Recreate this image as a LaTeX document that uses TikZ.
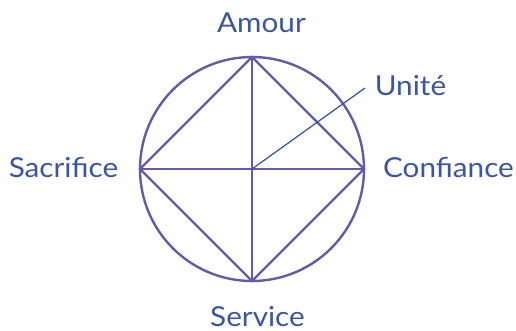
\documentclass[tikz,border=0pt]{standalone}
\usepackage{fontspec}
\setmainfont{Lato}[FakeStretch=1.08]
\definecolor{linec}{RGB}{98,92,168}
\definecolor{textc}{RGB}{58,86,160}
\definecolor{unitec}{RGB}{50,80,160}
\begin{document}
\begin{tikzpicture}[x=1pt,y=-1pt,
  lbl/.style={text=textc,font=\fontsize{27.5}{30}\selectfont,inner sep=0pt,anchor=base,text depth=0pt},
  figline/.style={draw=linec,line width=2.4pt}]
\useasboundingbox (0,0) rectangle (516,331);
\coordinate (C) at (252,169);
\coordinate (T) at (252,57);
\coordinate (R) at (364,169);
\coordinate (B) at (252,281);
\coordinate (L) at (140,169);
\coordinate (U) at (365,88);
\draw[figline] (C) circle[radius=112];
\draw[figline] (T) -- (R) -- (B) -- (L) -- cycle;
\draw[figline] (T) -- (B);
\draw[figline] (L) -- (R);
\draw[draw=unitec,line width=1.2pt] (C) -- (U);
\node[lbl] (amour) at (261.5,33) {Amour};
\node[lbl] (unite) at (410.5,96) {Unité};
\node[lbl] (sacrifice) at (63.5,177) {Sacrifice};
\node[lbl] (confiance) at (448.5,177) {Confiance};
\node[lbl] (service) at (257.5,326) {Service};
\end{tikzpicture}
\end{document}
